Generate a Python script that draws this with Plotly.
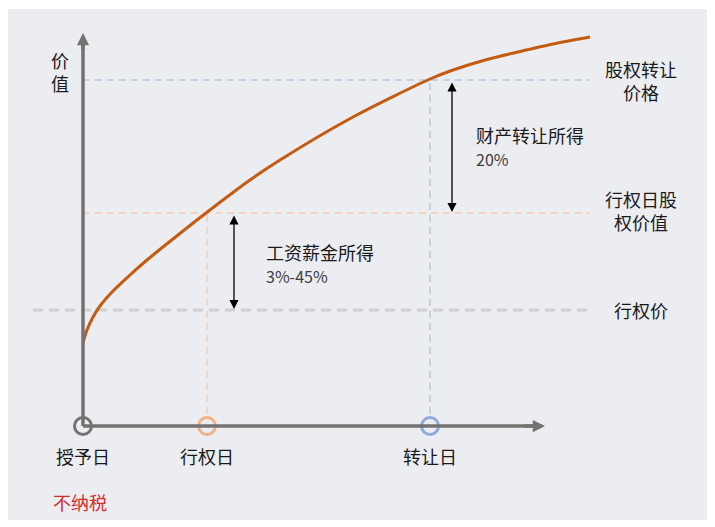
"""
Option taxation timeline – value curve with grant / exercise / transfer dates
"""

import plotly.graph_objects as go

# ── Data ────────────────────────────────────────────────────────────────
date_labels = ["授予日", "行权日", "转让日"]
date_pos = [0, 124, 347]

level_labels = ["行权价", "行权日股<br>权价值", "股权转让<br>价格"]
level_values = [116, 213, 346]

curve_t = [0, 4, 10, 17, 30, 47, 64, 95, 123, 167, 197, 270, 347, 370, 404, 437, 470, 507]
curve_v = [83, 96, 109, 120, 135, 151, 166, 191, 213, 246, 266, 309, 347, 356, 366.5, 374.5, 382, 389]

gain_labels = ["工资薪金所得", "财产转让所得"]
gain_rates = ["3%-45%", "20%"]

# ── Styles ──────────────────────────────────────────────────────────────
PANEL = "#ECEDF1"
AXIS = "#767171"
CURVE = "#C55A11"
STRIKE = "#D0D0D0"
ORANGE = "#F8CBAD"
ORANGE_RING = "#F4B183"
BLUE = "#B4C7E7"
BLUE_RING = "#8FAADC"
FONT = "Noto Sans CJK SC"
T_END = curve_t[-1]

fig = go.Figure()

shapes = [
    # background panel
    dict(type="rect", x0=-76, x1=626, y0=-94, y1=417, fillcolor=PANEL,
         line_width=0, layer="below"),
    # strike price line
    dict(type="line", x0=-50, x1=T_END, y0=level_values[0], y1=level_values[0],
         line=dict(color=STRIKE, width=3, dash="10px,6px"), layer="below"),
    # exercise-day value
    dict(type="line", x0=0, x1=T_END, y0=level_values[1], y1=level_values[1],
         line=dict(color=ORANGE, width=1.5, dash="7px,5px"), layer="below"),
    dict(type="line", x0=date_pos[1], x1=date_pos[1], y0=0, y1=level_values[1],
         line=dict(color=ORANGE, width=1.5, dash="7px,5px"), layer="below"),
    # transfer price
    dict(type="line", x0=0, x1=T_END, y0=level_values[2], y1=level_values[2],
         line=dict(color=BLUE, width=1.5, dash="7px,5px"), layer="below"),
    dict(type="line", x0=date_pos[2], x1=date_pos[2], y0=0, y1=level_values[2],
         line=dict(color=BLUE, width=1.5, dash="7px,5px"), layer="below"),
    # axes
    dict(type="line", x0=0, x1=0, y0=0, y1=385, line=dict(color=AXIS, width=3.5)),
    dict(type="line", x0=0, x1=452, y0=0, y1=0, line=dict(color=AXIS, width=3.5)),
]

# value curve
fig.add_trace(go.Scatter(
    x=curve_t, y=curve_v, mode="lines",
    line=dict(color=CURVE, width=3, shape="spline", smoothing=0.8),
    hoverinfo="skip", showlegend=False,
))

# date markers
fig.add_trace(go.Scatter(
    x=date_pos, y=[0] * len(date_pos), mode="markers",
    marker=dict(size=17, symbol=["circle-open", "circle", "circle"],
                color=[AXIS, PANEL, PANEL],
                line=dict(color=[AXIS, ORANGE_RING, BLUE_RING], width=3)),
    hoverinfo="skip", showlegend=False,
))

annotations = []

# axis arrowheads
annotations.append(dict(x=0, y=393, ax=0, ay=375, xref="x", yref="y",
                        axref="x", ayref="y", showarrow=True, arrowhead=2,
                        arrowsize=0.7, arrowwidth=3.5, arrowcolor=AXIS,
                        standoff=0, text=""))
annotations.append(dict(x=462, y=0, ax=440, ay=0, xref="x", yref="y",
                        axref="x", ayref="y", showarrow=True, arrowhead=2,
                        arrowsize=0.7, arrowwidth=3.5, arrowcolor=AXIS,
                        standoff=0, text=""))

# tax double arrows
annotations.append(dict(x=151, y=level_values[0] + 1, ax=151, ay=level_values[1] - 1,
                        xref="x", yref="y", axref="x", ayref="y",
                        showarrow=True, arrowhead=2, startarrowhead=2,
                        arrowside="end+start", arrowsize=1.4, startarrowsize=1.4,
                        arrowwidth=1.3, arrowcolor="#000000", standoff=0,
                        startstandoff=0, text=""))
annotations.append(dict(x=369, y=level_values[1] + 1, ax=369, ay=level_values[2] - 1,
                        xref="x", yref="y", axref="x", ayref="y",
                        showarrow=True, arrowhead=2, startarrowhead=2,
                        arrowside="end+start", arrowsize=1.4, startarrowsize=1.4,
                        arrowwidth=1.3, arrowcolor="#000000", standoff=0,
                        startstandoff=0, text=""))

txt = dict(family=FONT, size=18, color="#1A1A1A")

# date labels
for lbl, pos in zip(date_labels, date_pos):
    annotations.append(dict(x=pos, y=-30, text=lbl, showarrow=False,
                            xanchor="center", yanchor="middle", font=txt))

# level labels on the right
for lbl, val, dy in zip(level_labels, level_values, [0, 3, 0]):
    annotations.append(dict(x=558, y=val + dy, text=lbl, showarrow=False,
                            xanchor="center", yanchor="middle", font=txt))

# tax bracket texts
for lbl, rate, x0, y0 in zip(gain_labels, gain_rates, [181, 391], [163, 280]):
    annotations.append(dict(
        x=x0, y=y0, showarrow=False, xanchor="left", yanchor="middle",
        align="left",
        text=f"{lbl}<br><span style='color:#404040;font-size:16px'>{rate}</span>",
        font=txt))

# y-axis title and no-tax note
annotations.append(dict(x=-23, y=355, text="价<br>值", showarrow=False,
                        xanchor="center", yanchor="middle", font=txt))
annotations.append(dict(x=-3, y=-76, text="不纳税", showarrow=False,
                        xanchor="center", yanchor="middle",
                        font=dict(family=FONT, size=18, color="#D42A2A")))

# the page body adds an 8px margin, so the ranges are shifted to compensate
fig.update_layout(
    width=715, height=527,
    margin=dict(l=0, r=0, t=0, b=0),
    paper_bgcolor="white", plot_bgcolor="white",
    xaxis=dict(range=[-75, 640], visible=False, fixedrange=True),
    yaxis=dict(range=[-109, 418], visible=False, fixedrange=True),
    shapes=shapes, annotations=annotations, showlegend=False,
)

fig.write_html("out.html")
